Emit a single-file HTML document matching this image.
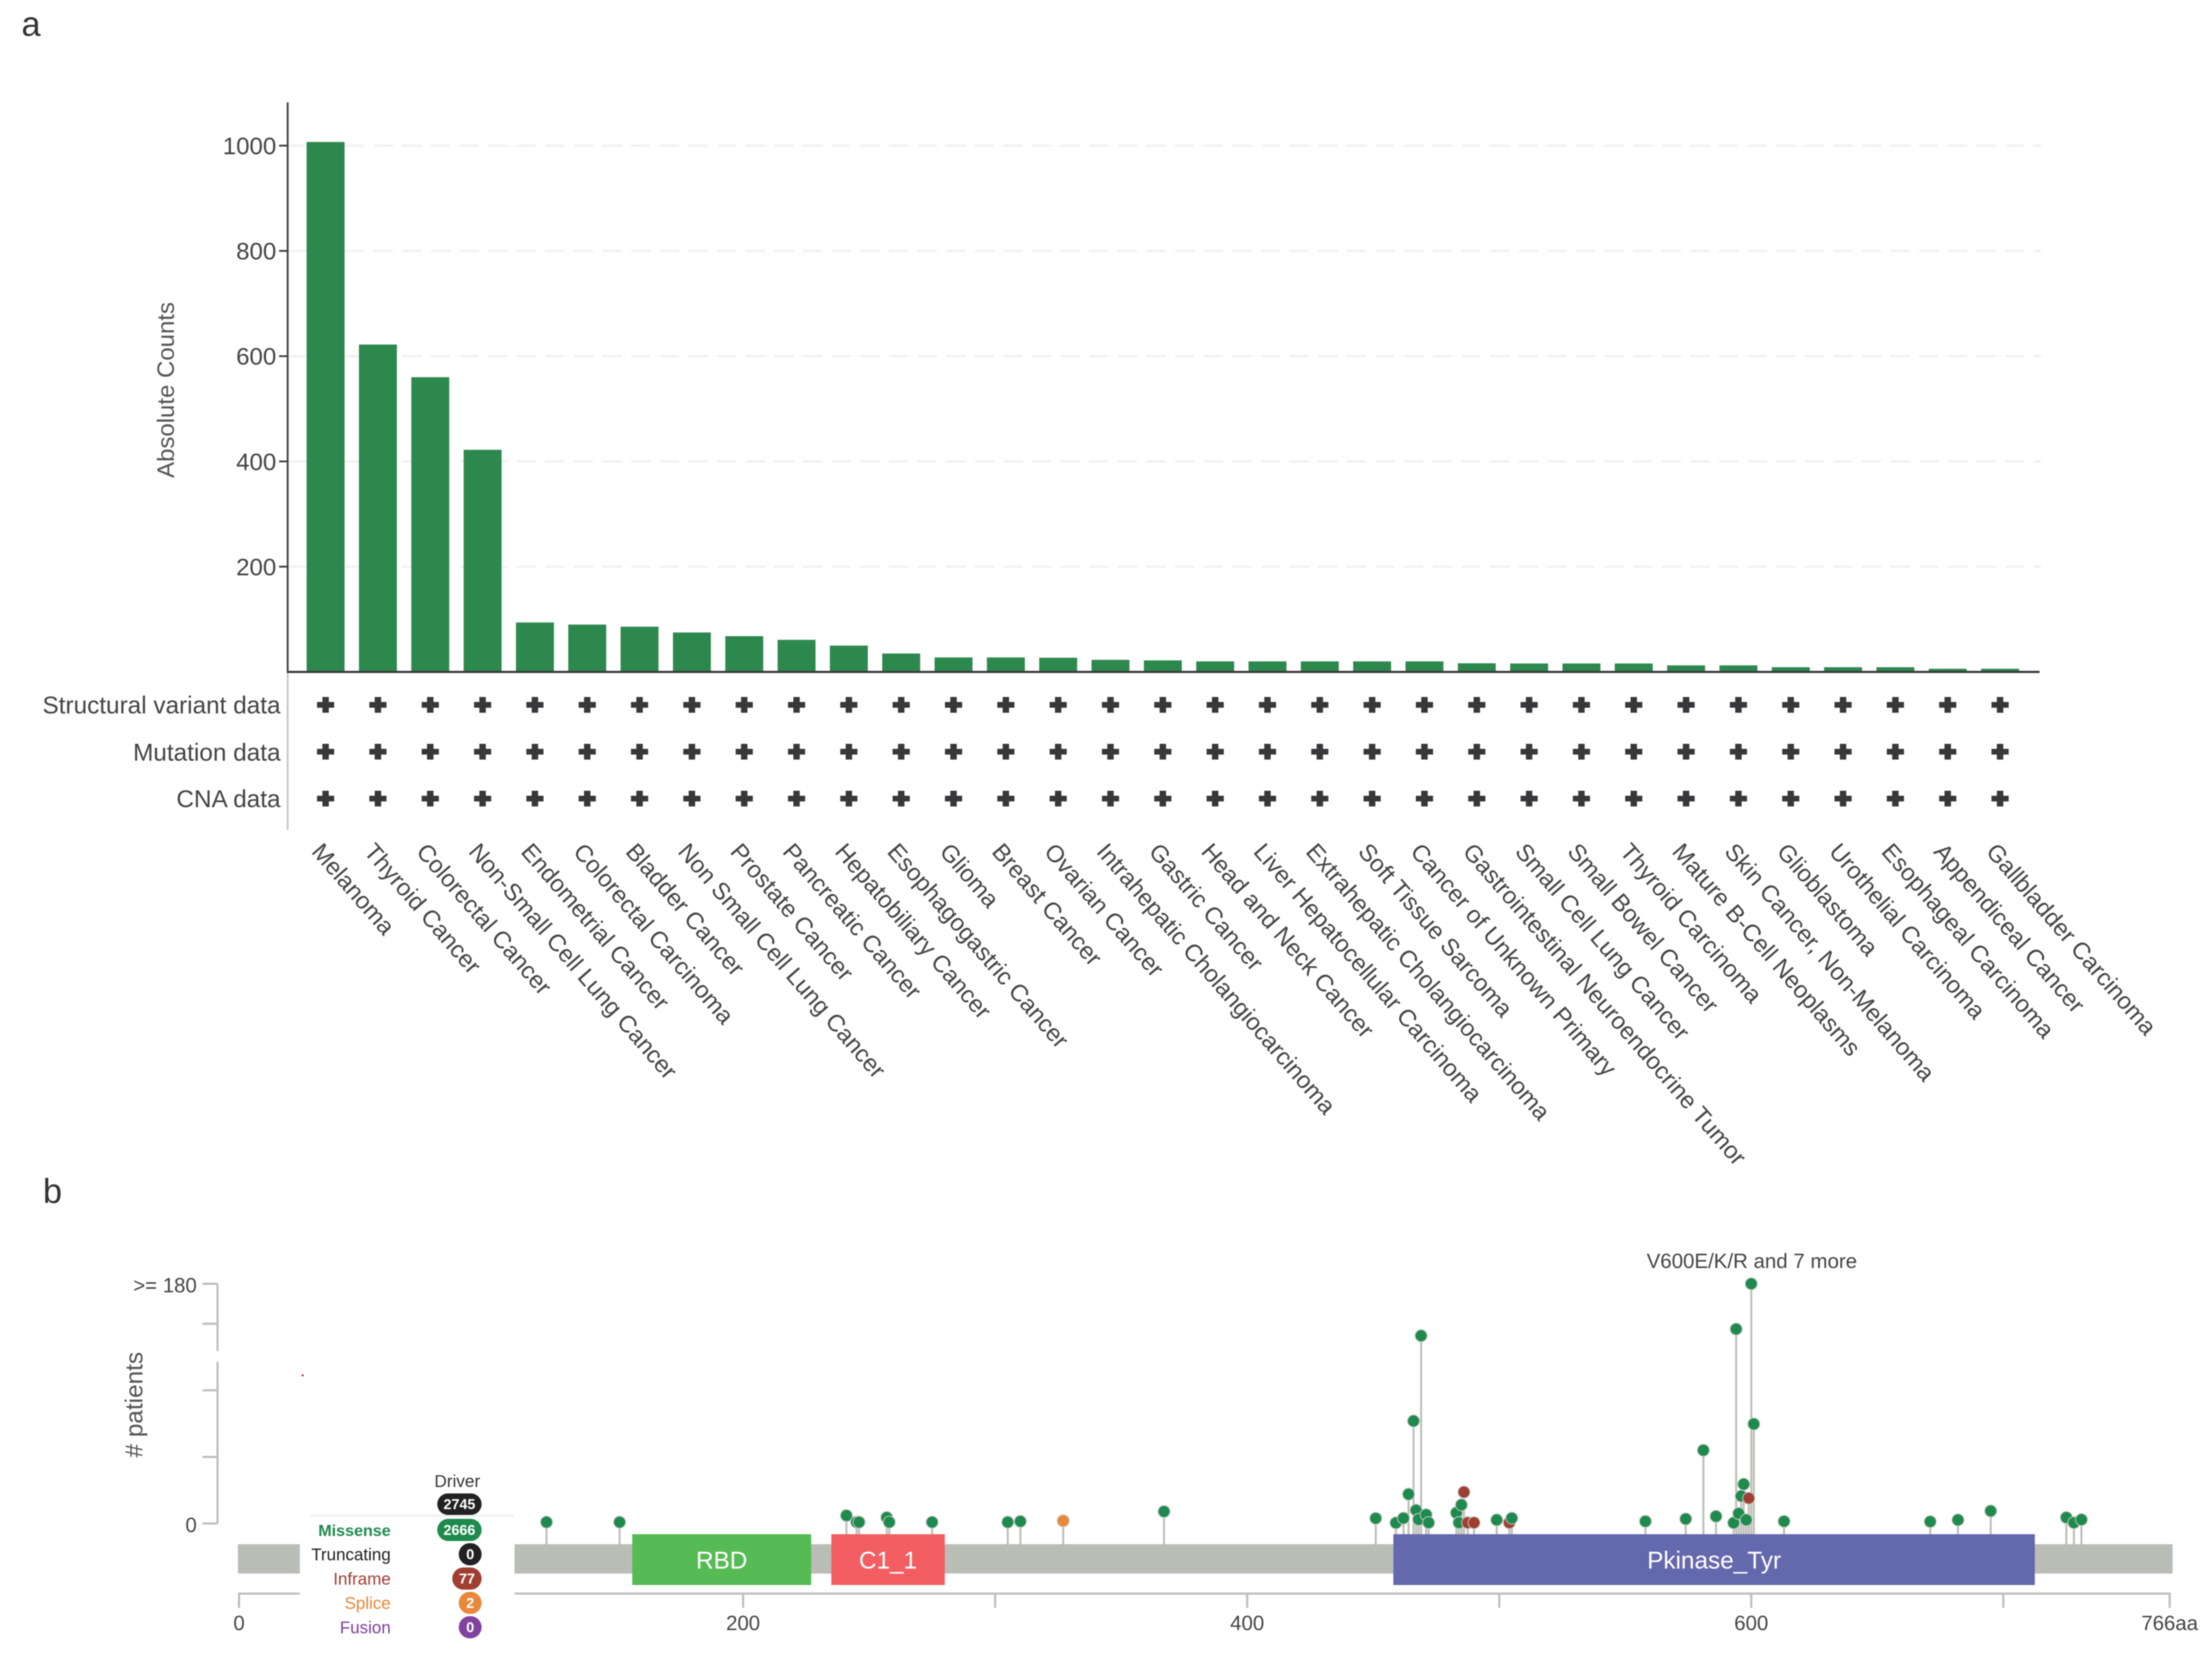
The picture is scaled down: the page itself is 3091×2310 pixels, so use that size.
<!DOCTYPE html>
<html lang="en">
<head>
<meta charset="utf-8">
<title>BRAF cancer type counts and lollipop plot</title>
<style>
html,body{margin:0;padding:0;background:#fff;}
svg{display:block;filter:blur(0.7px);}
text{font-family:"Liberation Sans",sans-serif;}
</style>
</head>
<body>
<svg id="fig" xmlns="http://www.w3.org/2000/svg" width="3091" height="2310" viewBox="0 0 3091 2310">
  <rect x="0" y="0" width="3091" height="2310" fill="#fff"/>
  <text x="30" y="50" font-size="48" fill="#333">a</text>
  <text x="60" y="1681" font-size="48" fill="#333">b</text>
  <text transform="translate(243,545) rotate(-90)" text-anchor="middle" font-size="33.5" fill="#555">Absolute Counts</text>
  <text x="392" y="997" text-anchor="end" font-size="34" fill="#444">Structural variant data</text>
  <text x="392" y="1063" text-anchor="end" font-size="34" fill="#444">Mutation data</text>
  <text x="392" y="1128" text-anchor="end" font-size="34" fill="#444">CNA data</text>
  <g id="panelA"></g>
  <text transform="translate(199,1963) rotate(-90)" text-anchor="middle" font-size="34" fill="#555"># patients</text>
  <g id="panelB"></g>
  <text x="2448" y="1772" text-anchor="middle" font-size="28.6" fill="#444">V600E/K/R and 7 more</text>
  <g id="legend"></g>
  <circle cx="423" cy="1922" r="1.5" fill="#a33"/>
</svg>
<script>
// ---- Panel a data ----
const categories = ["Melanoma","Thyroid Cancer","Colorectal Cancer","Non-Small Cell Lung Cancer","Endometrial Cancer","Colorectal Carcinoma","Bladder Cancer","Non Small Cell Lung Cancer","Prostate Cancer","Pancreatic Cancer","Hepatobiliary Cancer","Esophagogastric Cancer","Glioma","Breast Cancer","Ovarian Cancer","Intrahepatic Cholangiocarcinoma","Gastric Cancer","Head and Neck Cancer","Liver Hepatocellular Carcinoma","Extrahepatic Cholangiocarcinoma","Soft Tissue Sarcoma","Cancer of Unknown Primary","Gastrointestinal Neuroendocrine Tumor","Small Cell Lung Cancer","Small Bowel Cancer","Thyroid Carcinoma","Mature B-Cell Neoplasms","Skin Cancer, Non-Melanoma","Glioblastoma","Urothelial Carcinoma","Esophageal Carcinoma","Appendiceal Cancer","Gallbladder Carcinoma"];
const counts = [1007,622,560,422,94,90,86,75,68,61,50,35,27.6,27.6,27,23,22,20,20,20,20,20,16.4,16,16,16,12.5,12.5,9,9,9,6,6];
const yTicks = [200,400,600,800,1000];
const dataRows = ["Structural variant data","Mutation data","CNA data"];

// ---- Panel b data ----
const mutationPositions = [122,151,241,245,246,257,258,275,305,310,327,367,451,459,462,464,466,467,468,469,471,472,483,484,485,486,487.5,490,499,504,505,558,574,581,586,593,594,595,596,597,598,599,600,601,613,671,682,695,725,728,731];
const mutationCounts = [1,1,6,1,1,4.5,1,1,1,1.6,2,9,3.9,0.5,4,22,77,10,3,141,6.6,0.6,8,0.6,14,23.6,0.6,0.6,2.7,0.6,4,1.6,3.4,55,5.4,0.5,146,7.5,20.6,29.5,2.7,19,180,74.7,1.6,1.4,2.7,9.4,4.5,0.6,2.9];
const mutationTypes = ["M","M","M","M","M","M","M","M","M","M","S","M","M","M","M","M","M","M","M","M","M","M","M","M","M","I","I","I","M","I","M","M","M","M","M","M","M","M","M","M","M","I","M","M","M","M","M","M","M","M","M"];
const domainNames = ["RBD","C1_1","Pkinase_Tyr"];
const domainStarts = [156,235,458];
const domainEnds = [227,280,712.5];
const proteinLength = 766;
const lollipopYTicks = [0,50,100,150,180];
const lollipopYLabels = ["0","","","",">= 180"];
const xTicks = [0,100,200,300,400,500,600,700,766];
const xLabels = ["0","","200","","400","","600","","766aa"];
const legendNames = ["Missense","Truncating","Inframe","Splice","Fusion"];
const legendCounts = ["2666","0","77","2","0"];
const driverTotal = "2745";

const NS = "http://www.w3.org/2000/svg";
function mk(parent, tag, props, txt){
  const el = document.createElementNS(NS, tag);
  for (const k in props) el.setAttribute(k, props[k]);
  if (txt !== undefined) el.textContent = txt;
  parent.appendChild(el);
  return el;
}
const slug = s => s.toLowerCase().replace(/[^a-z0-9]+/g,'-').replace(/^-|-$/g,'');

// ---- Panel a axes ----
const A = document.getElementById('panelA');
const baseY = 939, topY = 143;
const yA = v => baseY - v * 0.7355;
const xA = i => 455 + i * 73.12;
const barW = 53;

yTicks.forEach(t => {
  const g = mk(A,'line',{x1:402,x2:2852,y1:yA(t),y2:yA(t),stroke:'#eef0f3','stroke-width':3,'stroke-dasharray':'27 13'});
  
  
});
categories.forEach((c,i) => {
  const b = mk(A,'rect',{x:xA(i)-barW/2,y:yA(counts[i]),width:barW,height:baseY-yA(counts[i]),fill:'#2d884e'});
  
  
});
const lowerAxis = mk(A,'line',{x1:402,x2:402,y1:baseY,y2:1160,stroke:'#c4c4c4','stroke-width':2.5});


const yAxisA = mk(A,'line',{x1:402,x2:402,y1:topY,y2:baseY+1.5,stroke:'#3a3a3c','stroke-width':2.5});


const xAxisA = mk(A,'line',{x1:401,x2:2850,y1:baseY,y2:baseY,stroke:'#3a3a3c','stroke-width':3});


yTicks.forEach(t => {
  const l = mk(A,'line',{x1:390,x2:402,y1:yA(t),y2:yA(t),stroke:'#3a3a3c','stroke-width':2.5});
  
  
  const tx = mk(A,'text',{x:386,y:yA(t)+12,'text-anchor':'end','font-size':33.6,fill:'#444'},String(t));
  
  
});
const rowY = r => 985 + r * 65.5;
categories.forEach((c,i) => {
  dataRows.forEach((r,j) => {
    const cx = xA(i), cy = rowY(j);
    const p = mk(A,'path',{d:`M${cx-4.5} ${cy-11}h9v7h7.5v8h-7.5v7h-9v-7h-7.5v-8h7.5z`,fill:'#38383a'});
    
    
  });
  const lb = mk(A,'text',{transform:`translate(${xA(i)-21},1191) rotate(49)`,'font-size':33.4,fill:'#444'},c);
  
  
});

// ---- Panel b axes ----
const B = document.getElementById('panelB');
const xB = aa => 334 + aa * 3.522;
const yB = v => 2129 - v * 1.861;
const typeColor = {M:'#1f8a4d',I:'#9f3f32',S:'#e8883a'};
const gray = '#bcbeb7';

// y axis with a break
const yAxisLow = mk(B,'line',{x1:304,x2:304,y1:yB(0),y2:1903,stroke:'#bdbdbd','stroke-width':3});


const yAxisHigh = mk(B,'line',{x1:304,x2:304,y1:1888,y2:yB(180),stroke:'#bdbdbd','stroke-width':3});


lollipopYTicks.forEach((t,i) => {
  const l = mk(B,'line',{x1:283,x2:304,y1:yB(t),y2:yB(t),stroke:'#bdbdbd','stroke-width':3});
  
  
  if (lollipopYLabels[i]) {
    const tx = mk(B,'text',{x:275,y:yB(t)+12,'text-anchor':'end','font-size':28.5,fill:'#444'},lollipopYLabels[i]);
    
    
  }
});

// stems
const backboneTop = 2158, backboneBottom = 2199, domainTop = 2144, domainBottom = 2215;
const inDomain = aa => domainStarts.some((s,i) => aa >= s && aa <= domainEnds[i]);
mutationPositions.forEach((aa,i) => {
  const s = mk(B,'line',{x1:xB(aa),x2:xB(aa),y1:inDomain(aa)?domainTop:backboneTop,y2:yB(mutationCounts[i]),stroke:gray,'stroke-width':2.8});
  
  
});
// backbone and domains
const backbone = mk(B,'rect',{x:xB(0)-1.5,y:backboneTop,width:xB(proteinLength)-xB(0)+5.5,height:backboneBottom-backboneTop,fill:'#babdb6'});


const domainColors = ['#57bb55','#f25e61','#6468ad'];
domainNames.forEach((d,i) => {
  const r = mk(B,'rect',{x:xB(domainStarts[i]),y:domainTop,width:xB(domainEnds[i])-xB(domainStarts[i]),height:domainBottom-domainTop,fill:domainColors[i]});
  
  
  const t = mk(B,'text',{x:(xB(domainStarts[i])+xB(domainEnds[i]))/2,y:2192,'text-anchor':'middle','font-size':34,fill:'#fff'},d);
  
  
});
// heads
mutationPositions.forEach((aa,i) => {
  const c = mk(B,'circle',{cx:xB(aa),cy:yB(mutationCounts[i]),r:8.4,fill:typeColor[mutationTypes[i]],stroke:'#c8cac4','stroke-width':1.2});
  
  
});
// x axis
const axisY = 2227;
const xAxisB = mk(B,'line',{x1:xB(0)-1.5,x2:xB(proteinLength)+1.5,y1:axisY,y2:axisY,stroke:'#bdbdbd','stroke-width':3});


xTicks.forEach((t,i) => {
  const l = mk(B,'line',{x1:xB(t),x2:xB(t),y1:axisY,y2:2247,stroke:'#bdbdbd','stroke-width':3});
  
  
  if (xLabels[i]) {
    const tx = mk(B,'text',{x:xB(t),y:2278,'text-anchor':'middle','font-size':28.5,fill:'#444'},xLabels[i]);
    
    
  }
});

// ---- Legend ----
const L = document.getElementById('legend');
const legendBg = mk(L,'rect',{x:419,y:2118,width:300,height:192,fill:'#fff'});


const sep = mk(L,'line',{x1:434,x2:719,y1:2118,y2:2118,stroke:'#eeeeee','stroke-width':2.5});


const drvT = mk(L,'text',{x:639,y:2078,'text-anchor':'middle','font-size':24,fill:'#333'},'Driver');


const legendColors = ['#1f8a4d','#222222','#9f3f32','#e8883a','#8142a0'];
const pillRight = 673;
function pillWidth(s){ return s.length >= 4 ? 62 : s.length === 2 ? 41 : 32; }
const drvP = mk(L,'rect',{x:pillRight-62,y:2087,width:62,height:30,rx:15,fill:'#222222'});


const drvN = mk(L,'text',{x:pillRight-31,y:2109,'text-anchor':'middle','font-size':20,'font-weight':'bold',fill:'#fff'},driverTotal);


legendNames.forEach((n,i) => {
  const y = 2138 + i * 34;
  const t = mk(L,'text',{x:546,y:y+8.5,'text-anchor':'end','font-size':i===0?22.5:23.7,'font-weight':i===0?'bold':'normal',fill:legendColors[i]},n);
  
  
  const w = pillWidth(legendCounts[i]);
  const p = mk(L,'rect',{x:pillRight-w,y:y-15.5,width:w,height:31,rx:15.5,fill:legendColors[i]});
  
  
  const c = mk(L,'text',{x:pillRight-w/2,y:y+7,'text-anchor':'middle','font-size':20,'font-weight':'bold',fill:'#fff'},legendCounts[i]);
  
  
});
</script>
</body>
</html>
